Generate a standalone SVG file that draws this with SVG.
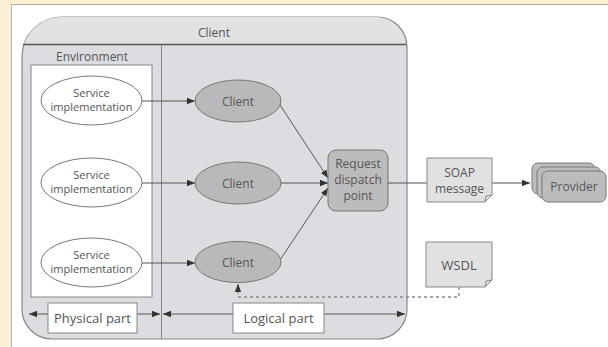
<svg xmlns="http://www.w3.org/2000/svg" width="608" height="347" viewBox="0 0 608 347">
  <style>
    text { font-family: "Open Sans", "DejaVu Sans", sans-serif; fill: #555; font-size: 12px; text-anchor: middle; }
    .svc-t { font-size: 11px; }
    .edge { fill: none; stroke: #555; stroke-width: 1; }
    .dash { fill: none; stroke: #888; stroke-width: 1.3; stroke-dasharray: 3 3; }
    .svc { fill: #fff; stroke: #777; stroke-width: 1; }
    .cli { fill: #b9b9bb; stroke: #777; stroke-width: 1; }
    .doc { fill: #e1e1e2; stroke: #888; stroke-width: 1; }
    .prov { fill: #bcbcbe; stroke: #777; stroke-width: 1; }
    .label { fill: #fff; stroke: #888; stroke-width: 1; }
  </style>
  <defs>
    <marker id="arrow" viewBox="0 0 10 10" refX="10" refY="5" markerWidth="8" markerHeight="8" markerUnits="userSpaceOnUse" orient="auto">
      <path d="M0,1 L10,5 L0,9 z" fill="#333"/>
    </marker>
  </defs>

  <!-- page frame -->
  <rect x="0" y="0" width="608" height="347" fill="#fff"/>
  <rect x="0" y="0" width="608" height="4" fill="#fbf0d6"/>
  <rect x="0" y="0" width="11" height="347" fill="#fbf0d6"/>
  <line x1="11" y1="4.5" x2="608" y2="4.5" stroke="#b8b0a0" stroke-width="1"/>
  <line x1="11.5" y1="4" x2="11.5" y2="347" stroke="#b8b0a0" stroke-width="1"/>

  <!-- Client container -->
  <g id="client-container">
    <path d="M62,17 L377,17 A30,30 0 0 1 407,47 L407,309 A30,30 0 0 1 377,339 L52,339 A30,30 0 0 1 22,309 L22,57 A40,40 0 0 1 62,17 Z" fill="#dcdde0" stroke="#888" stroke-width="1.2"/>
    <path d="M62,17 L377,17 A30,30 0 0 1 405,44 L24,44 A40,40 0 0 1 62,17 Z" fill="#e2e2e3"/>
    <line x1="23" y1="44.5" x2="406" y2="44.5" stroke="#555" stroke-width="1.5"/>
    <line x1="161.5" y1="45" x2="161.5" y2="339" stroke="#888" stroke-width="1"/>
    <text x="214" y="37">Client</text>
    <text x="92" y="61">Environment</text>
    <rect x="31" y="65" width="121" height="232" fill="#fff" stroke="#888" stroke-width="1"/>
  </g>

  <!-- connectors -->
  <g id="connectors">
    <line class="edge" x1="142" y1="101" x2="195" y2="101" marker-end="url(#arrow)"/>
    <line class="edge" x1="142" y1="183" x2="195" y2="183" marker-end="url(#arrow)"/>
    <line class="edge" x1="142" y1="263" x2="195" y2="263" marker-end="url(#arrow)"/>
    <line class="edge" x1="280" y1="105" x2="328" y2="178" marker-end="url(#arrow)"/>
    <line class="edge" x1="281" y1="183" x2="328" y2="183" marker-end="url(#arrow)"/>
    <line class="edge" x1="280" y1="260" x2="328" y2="188" marker-end="url(#arrow)"/>
    <line class="edge" x1="388" y1="183" x2="427" y2="183"/>
    <line class="edge" x1="492" y1="183" x2="530" y2="183" marker-end="url(#arrow)"/>
    <path class="dash" d="M459,287 L459,297 L238,297 L238,292"/>
    <line class="edge" x1="238" y1="292" x2="238" y2="284" marker-end="url(#arrow)"/>
    <line class="edge" x1="48" y1="314" x2="29" y2="314" marker-end="url(#arrow)"/>
    <line class="edge" x1="137" y1="314" x2="160" y2="314" marker-end="url(#arrow)"/>
    <line class="edge" x1="233" y1="314" x2="163" y2="314" marker-end="url(#arrow)"/>
    <line class="edge" x1="324" y1="314" x2="405" y2="314" marker-end="url(#arrow)"/>
  </g>

  <!-- service implementations -->
  <g id="svc1"><ellipse class="svc" cx="91.5" cy="100.5" rx="50.5" ry="24.5"/><text class="svc-t" x="91.5" y="97">Service</text><text class="svc-t" x="91.5" y="111">implementation</text></g>
  <g id="svc2"><ellipse class="svc" cx="91.5" cy="182.5" rx="50.5" ry="24.5"/><text class="svc-t" x="91.5" y="179">Service</text><text class="svc-t" x="91.5" y="193">implementation</text></g>
  <g id="svc3"><ellipse class="svc" cx="91.5" cy="262.5" rx="50.5" ry="24.5"/><text class="svc-t" x="91.5" y="259">Service</text><text class="svc-t" x="91.5" y="273">implementation</text></g>

  <!-- client proxies -->
  <g id="client1"><ellipse class="cli" cx="238" cy="101" rx="43" ry="21"/><text x="238" y="105.5">Client</text></g>
  <g id="client2"><ellipse class="cli" cx="238" cy="183" rx="43" ry="21"/><text x="238" y="187.5">Client</text></g>
  <g id="client3"><ellipse class="cli" cx="238" cy="262" rx="43" ry="20.5"/><text x="238" y="266.5">Client</text></g>

  <!-- request dispatch point -->
  <g id="dispatch">
    <rect x="328" y="150" width="60" height="61" rx="8" fill="#bcbcbe" stroke="#777" stroke-width="1"/>
    <text x="358" y="168">Request</text>
    <text x="358" y="184">dispatch</text>
    <text x="358" y="200">point</text>
  </g>

  <!-- SOAP message -->
  <g id="soap">
    <path class="doc" d="M427,158 L492,158 L492,195 L485,202 L427,202 Z"/>
    <path d="M485,202 L486,196 L492,195" fill="none" stroke="#888" stroke-width="1"/>
    <text x="459.5" y="177">SOAP</text>
    <text x="459.5" y="193">message</text>
  </g>

  <!-- WSDL -->
  <g id="wsdl">
    <path class="doc" d="M426,242 L492,242 L492,280 L485,287 L426,287 Z"/>
    <path d="M485,287 L486,281 L492,280" fill="none" stroke="#888" stroke-width="1"/>
    <text x="459" y="269.5" style="font-size:13px">WSDL</text>
  </g>

  <!-- provider stack -->
  <g id="provider">
    <rect class="prov" x="532" y="163" width="63" height="31" rx="6"/>
    <rect class="prov" x="537" y="167" width="64" height="31" rx="6"/>
    <rect class="prov" x="542" y="171" width="64" height="31" rx="6"/>
    <text x="574" y="191">Provider</text>
  </g>

  <!-- part labels -->
  <g id="physical-part">
    <rect class="label" x="48" y="303" width="89" height="30"/>
    <text x="92.5" y="322.5" style="font-size:13px">Physical part</text>
  </g>
  <g id="logical-part">
    <rect class="label" x="233" y="303" width="91" height="30"/>
    <text x="278.5" y="322.5" style="font-size:13px">Logical part</text>
  </g>
</svg>
